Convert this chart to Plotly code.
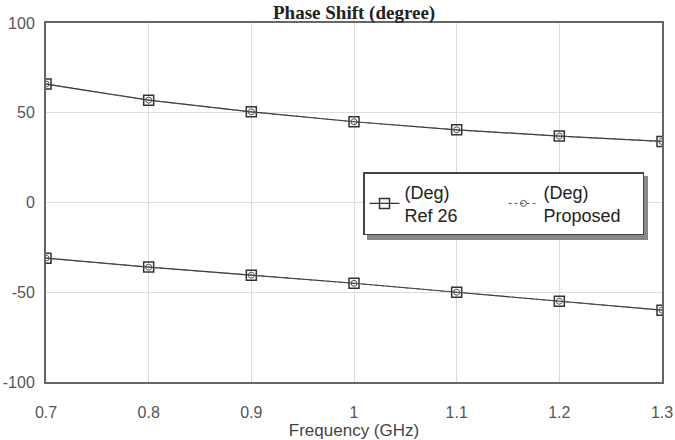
import plotly.graph_objects as go

freq = [0.7, 0.8, 0.9, 1.0, 1.1, 1.2, 1.3]
ref26_upper = [66, 57, 50.5, 45, 40.5, 37, 34]
ref26_lower = [-31, -36, -40.5, -45, -50, -55, -60]
prop_upper = [66, 57, 50.5, 45, 40.5, 37, 34]
prop_lower = [-31, -36, -40.5, -45, -50, -55, -60]
y_ticks = [-100, -50, 0, 50, 100]
y_tick_text = ["-100", "-50", "0", "50", "100"]
x_tick_text = ["0.7", "0.8", "0.9", "1", "1.1", "1.2", "1.3"]

line_col = "#333333"
fig = go.Figure()
fig.add_trace(go.Scatter(
    x=freq + [None] + freq, y=ref26_upper + [None] + ref26_lower,
    mode="lines+markers", name="(Deg)<br>Ref 26",
    line=dict(color=line_col, width=1.2),
    marker=dict(symbol="square-open", size=10, color=line_col, line=dict(width=1.5)),
    connectgaps=False))
fig.add_trace(go.Scatter(
    x=freq + [None] + freq, y=prop_upper + [None] + prop_lower,
    mode="lines+markers", name="(Deg)<br>Proposed",
    line=dict(color="#555555", width=1, dash="dot"),
    marker=dict(symbol="circle-open", size=6, color="#555555", line=dict(width=1)),
    connectgaps=False))

L, R, T, B = 46, 13, 23, 58
W, H = 675, 440
pw, ph = W - L - R, H - T - B

# legend shadow
lx0, lx1, ly0, ly1 = 363, 644, 172, 236
fig.add_shape(type="rect", xref="paper", yref="paper",
              x0=(lx0 + 4 - L) / pw, x1=(lx1 + 4 - L) / pw,
              y0=(H - B - (ly1 + 4)) / ph, y1=(H - B - (ly0 + 4)) / ph,
              fillcolor="#888888", line=dict(width=0), layer="above")

fig.update_layout(
    width=W, height=H,
    margin=dict(l=L, r=R, t=T, b=B, autoexpand=False),
    paper_bgcolor="white", plot_bgcolor="white",
    font=dict(family="Liberation Sans, Arial, sans-serif", color="#444444"),
    showlegend=True,
    legend=dict(
        x=(lx0 - L) / pw, y=(H - B - ly0) / ph, xanchor="left", yanchor="top",
        orientation="h", bgcolor="white", bordercolor="#444444", borderwidth=1.5,
        font=dict(size=18, color="#222222"), itemwidth=30,
        entrywidth=94, entrywidthmode="pixels", tracegroupgap=0,
    ),
    xaxis=dict(
        range=[0.7, 1.3], tickvals=freq, ticktext=x_tick_text, automargin=False,
        showgrid=True, gridcolor="#dddddd", gridwidth=1,
        showline=True, linecolor="#666666", linewidth=2, mirror=True,
        ticks="", ticklabelstandoff=15, tickfont=dict(size=16, color="#555555"),
        zeroline=False,
        title=dict(text="Frequency (GHz)", font=dict(size=17, color="#444444"), standoff=4),
    ),
    yaxis=dict(
        range=[-100, 100], tickvals=y_ticks, ticktext=y_tick_text, automargin=False,
        showgrid=True, gridcolor="#dddddd", gridwidth=1,
        showline=True, linecolor="#666666", linewidth=2, mirror=True,
        ticks="", ticklabelstandoff=6, tickfont=dict(size=16, color="#555555"),
        zeroline=False,
    ),
    annotations=[dict(
        text="<b>Phase Shift (degree)</b>", xref="paper", yref="paper",
        x=0.5, y=1, xanchor="center", yanchor="bottom", yshift=-3, showarrow=False,
        font=dict(family="Liberation Serif, Times New Roman, serif", size=19, color="#222222"),
    )],
)

fig.write_html("out.html")
